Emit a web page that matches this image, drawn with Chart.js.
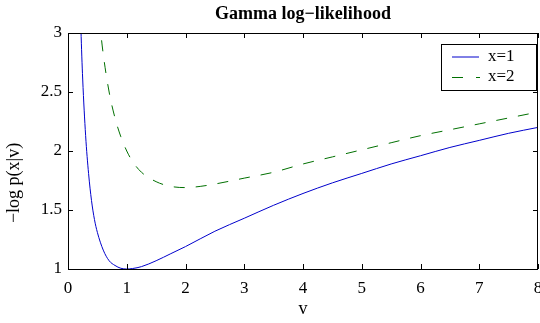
<!DOCTYPE html>
<html>
<head>
<meta charset="utf-8">
<script src="https://cdn.jsdelivr.net/npm/chart.js@4"></script>
<style>
  html, body { margin: 0; padding: 0; background: #fff; }
  #wrap { width: 540px; height: 323px; }
</style>
</head>
<body>
<div id="wrap"><canvas id="chart" width="540" height="323"></canvas></div>
<script>
// values
const vX1 = [0.2, 0.22, 0.25, 0.3, 0.35, 0.4, 0.45, 0.5, 0.6, 0.7, 0.8, 0.9, 1.0, 1.1, 1.25, 1.5, 1.75, 2, 2.5, 3, 3.5, 4, 4.5, 5, 5.5, 6, 6.5, 7, 7.5, 8];
const nllX1 = [3.39, 3.03, 2.61, 2.13, 1.81, 1.58, 1.42, 1.31, 1.16, 1.07, 1.03, 1.006, 1.0, 1.004, 1.02, 1.07, 1.13, 1.19, 1.32, 1.43, 1.54, 1.64, 1.73, 1.81, 1.89, 1.96, 2.03, 2.09, 2.15, 2.2];
const vX2 = [0.5, 0.55, 0.6, 0.7, 0.8, 0.9, 1.0, 1.1, 1.25, 1.5, 1.75, 2, 2.25, 2.5, 3, 3.5, 4, 4.5, 5, 5.5, 6, 6.5, 7, 7.5, 8];
const nllX2 = [3.31, 3.04, 2.82, 2.5, 2.28, 2.12, 2.0, 1.91, 1.82, 1.74, 1.7, 1.69, 1.7, 1.72, 1.77, 1.82, 1.89, 1.95, 2.01, 2.07, 2.13, 2.18, 2.23, 2.28, 2.33];
const xTicks = [0, 1, 2, 3, 4, 5, 6, 7, 8];
const yTicks = [1, 1.5, 2, 2.5, 3];
const seriesNames = ['x=1', 'x=2'];

const serif = '"Liberation Serif", "Times New Roman", serif';
const blue = '#0000cc';
const green = '#007000';

function pts(xs, ys) {
    return xs.map((x, i) => ({ x: x, y: ys[i] }));
}

// box, inward ticks, titles and legend (matlab look)
const decor = {
    id: 'decor',
    afterDatasetsDraw(chart) {
        const ctx = chart.ctx;
        const a = chart.chartArea;
        const xs = chart.scales.x, ys = chart.scales.y;
        ctx.save();
        ctx.strokeStyle = '#000';
        ctx.lineWidth = 1;
        ctx.beginPath();
        xTicks.forEach(t => {
            const px = Math.round(xs.getPixelForValue(t)) + 0.5;
            ctx.moveTo(px, a.bottom); ctx.lineTo(px, a.bottom - 5);
            ctx.moveTo(px, a.top); ctx.lineTo(px, a.top + 5);
        });
        yTicks.forEach(t => {
            const py = Math.round(ys.getPixelForValue(t)) + 0.5;
            ctx.moveTo(a.left, py); ctx.lineTo(a.left + 5, py);
            ctx.moveTo(a.right, py); ctx.lineTo(a.right - 5, py);
        });
        ctx.stroke();
        ctx.strokeRect(Math.round(a.left) + 0.5, Math.round(a.top) + 0.5,
            Math.round(a.right - a.left) - 1, Math.round(a.bottom - a.top));

        // legend
        const lx = 441, ly = 44, lw = 95, lh = 46;
        ctx.fillStyle = '#fff';
        ctx.fillRect(lx, ly, lw, lh);
        ctx.strokeRect(lx + 0.5, ly + 0.5, lw, lh);
        ctx.strokeStyle = blue;
        ctx.beginPath(); ctx.moveTo(452, 57); ctx.lineTo(479, 57); ctx.stroke();
        ctx.strokeStyle = green;
        ctx.setLineDash([11, 13]);
        ctx.beginPath(); ctx.moveTo(452, 77.5); ctx.lineTo(480, 77.5); ctx.stroke();
        ctx.setLineDash([]);
        ctx.fillStyle = '#000';
        ctx.font = '17px ' + serif;
        ctx.textAlign = 'left';
        ctx.textBaseline = 'middle';
        ctx.fillText(seriesNames[0], 488, 57);
        ctx.fillText(seriesNames[1], 488, 77);

        // titles
        const cx = (a.left + a.right) / 2;
        ctx.textAlign = 'center';
        ctx.font = 'bold 18px ' + serif;
        ctx.fillText('Gamma log\u2212likelihood', cx, 14);
        ctx.font = '18px ' + serif;
        ctx.fillText('v', cx, 309);
        ctx.translate(14, 183);
        ctx.rotate(-Math.PI / 2);
        ctx.fillText('\u2212log p(x|v)', 0, 0);
        ctx.restore();
    }
};

new Chart(document.getElementById('chart'), {
    type: 'line',
    data: {
        datasets: [
            {
                label: seriesNames[0],
                data: pts(vX1, nllX1),
                borderColor: blue,
                borderWidth: 1,
                pointRadius: 0,
                cubicInterpolationMode: 'monotone',
                fill: false
            },
            {
                label: seriesNames[1],
                data: pts(vX2, nllX2),
                borderColor: green,
                borderWidth: 1,
                borderDash: [11, 11],
                pointRadius: 0,
                cubicInterpolationMode: 'monotone',
                fill: false
            }
        ]
    },
    options: {
        responsive: false,
        animation: false,
        events: [],
        layout: { padding: { top: 33, right: 2, left: 0, bottom: 0 } },
        plugins: {
            legend: { display: false },
            title: { display: false },
            tooltip: { enabled: false }
        },
        scales: {
            x: {
                type: 'linear',
                min: 0, max: 8,
                grid: { display: false, drawTicks: false },
                border: { display: false },
                afterBuildTicks: s => { s.ticks = xTicks.map(v => ({ value: v })); },
                afterFit: s => { s.height = 54; s.paddingRight = 0; s.paddingLeft = 0; },
                ticks: { padding: 9, maxRotation: 0, color: '#000', font: { family: serif, size: 17 },
                         callback: v => String(v) }
            },
            y: {
                type: 'linear',
                min: 1, max: 3,
                grid: { display: false, drawTicks: false },
                border: { display: false },
                afterBuildTicks: s => { s.ticks = yTicks.map(v => ({ value: v })); },
                afterFit: s => { s.width = 68; s.paddingTop = 0; s.paddingBottom = 0; },
                ticks: { padding: 6, color: '#000', font: { family: serif, size: 17 },
                         callback: v => String(v) }
            }
        }
    },
    plugins: [decor]
});
</script>
</body>
</html>
